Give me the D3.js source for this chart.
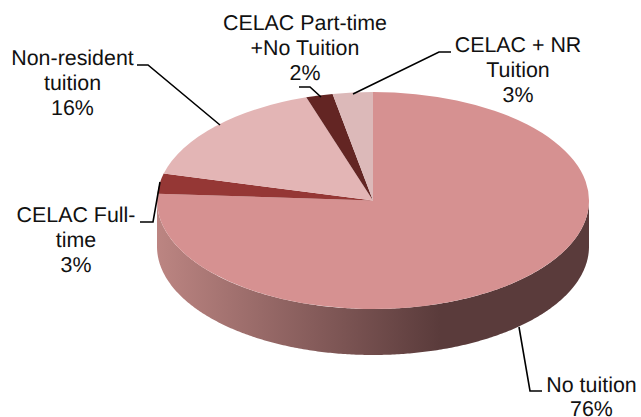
<!DOCTYPE html>
<html>
<head>
<meta charset="utf-8">
<script src="https://cdn.jsdelivr.net/npm/d3@7"></script>
<style>
    html, body { margin: 0; padding: 0; background: #fff; overflow: hidden; }
    text { font-family: "Liberation Sans", Arial, sans-serif; font-size: 21.4px; fill: #111; text-anchor: middle; text-rendering: geometricPrecision; }
    .leader { fill: none; stroke: #000; stroke-width: 1.6px; }
</style>
</head>
<body>
<div id="chart-area"></div>
<script>
// Chart data
var categories = ["No tuition", "CELAC Full-time", "Non-resident tuition", "CELAC Part-time +No Tuition", "CELAC + NR Tuition"];
var values = [76, 3, 16, 2, 3];
var labelLines = [
    ["No tuition", "76%"],
    ["CELAC Full-", "time", "3%"],
    ["Non-resident", "tuition", "16%"],
    ["CELAC Part-time", "+No Tuition", "2%"],
    ["CELAC + NR", "Tuition", "3%"]
];
var colors = ["#d69191", "#953735", "#e3b5b5", "#632523", "#dcb9b9"];

// Layout
var width = 641, height = 417;
var cx = 373, cy = 200.5, rx = 216, ry = 108.5, depth = 46;
var labelPos = [[591.5, 392], [76, 222], [72.5, 65], [305, 30], [518, 52]];
var lineHeights = [23.5, 25, 25, 25, 25];
var leaders = [
    [[519, 327], [530, 391], [542, 391]],
    [[140, 222], [153, 222], [160, 182]],
    [[137, 65], [148, 65], [220, 125]],
    [[299, 87], [310, 87], [321, 97]],
    [[353, 94], [439, 52], [451, 52]]
];

var svg = d3.select("#chart-area").append("svg")
    .attr("width", width)
    .attr("height", height)
    .style("display", "block");

var pie = d3.pie().sort(null)(values);

// side wall gradient
var grad = svg.append("defs").append("linearGradient")
    .attr("id", "wall")
    .attr("gradientUnits", "userSpaceOnUse")
    .attr("x1", cx - rx).attr("x2", cx + rx)
    .attr("y1", 0).attr("y2", 0);
grad.append("stop").attr("offset", 0).attr("stop-color", "#bc8582");
grad.append("stop").attr("offset", 0.655).attr("stop-color", "#5a3b3b");
grad.append("stop").attr("offset", 1).attr("stop-color", "#5a3b3b");

// wall only shows on the front half of the ellipse
var wallStart = Math.max(pie[0].startAngle, Math.PI / 2);
var wallEnd = Math.min(pie[0].endAngle, Math.PI * 1.5);
var wallAngles = d3.range(wallStart, wallEnd, 0.01).concat([wallEnd]);

var wallArea = d3.area()
    .x(function(a) { return cx + rx * Math.sin(a); })
    .y0(function(a) { return cy - ry * Math.cos(a); })
    .y1(function(a) { return cy - ry * Math.cos(a) + depth; });

svg.append("path")
    .attr("d", wallArea(wallAngles))
    .attr("fill", "url(#wall)");

// top face, a unit circle squashed into the ellipse
var arc = d3.arc().innerRadius(0).outerRadius(1);

svg.append("g")
    .attr("transform", "translate(" + cx + "," + cy + ") scale(" + rx + "," + ry + ")")
    .selectAll("path")
    .data(pie)
    .enter()
    .append("path")
    .attr("d", arc)
    .attr("fill", function(d, i) { return colors[i]; });

// leader lines
svg.append("g").selectAll("path")
    .data(leaders)
    .enter()
    .append("path")
    .attr("class", "leader")
    .attr("d", d3.line());

// labels
var labels = svg.append("g").selectAll("text")
    .data(categories)
    .enter()
    .append("text")
    .attr("x", function(d, i) { return labelPos[i][0]; })
    .attr("y", function(d, i) { return labelPos[i][1]; });

labels.each(function(d, i) {
    d3.select(this).selectAll("tspan")
        .data(labelLines[i])
        .enter()
        .append("tspan")
        .attr("x", labelPos[i][0])
        .attr("y", function(t, j) { return labelPos[i][1] + j * lineHeights[i]; })
        .text(function(t) { return t; });
});
</script>
</body>
</html>
